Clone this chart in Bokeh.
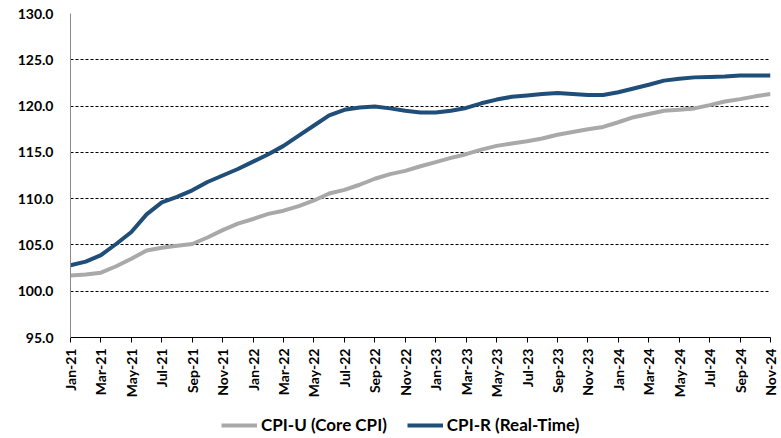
import math
from bokeh.plotting import figure
from bokeh.layouts import column
from bokeh.models import FixedTicker, NumeralTickFormatter, Range1d, Legend, LegendItem
from bokeh.embed import file_html
from bokeh.resources import INLINE

months = ["Jan-21","Feb-21","Mar-21","Apr-21","May-21","Jun-21","Jul-21","Aug-21","Sep-21","Oct-21","Nov-21","Dec-21",
          "Jan-22","Feb-22","Mar-22","Apr-22","May-22","Jun-22","Jul-22","Aug-22","Sep-22","Oct-22","Nov-22","Dec-22",
          "Jan-23","Feb-23","Mar-23","Apr-23","May-23","Jun-23","Jul-23","Aug-23","Sep-23","Oct-23","Nov-23","Dec-23",
          "Jan-24","Feb-24","Mar-24","Apr-24","May-24","Jun-24","Jul-24","Aug-24","Sep-24","Oct-24","Nov-24"]

cpi_u = [101.7, 101.8, 102.0, 102.7, 103.5, 104.4, 104.7, 104.9, 105.1, 105.8, 106.6, 107.3,
         107.8, 108.35, 108.7, 109.2, 109.8, 110.55, 110.95, 111.5, 112.15, 112.65, 113.0, 113.5,
         113.95, 114.4, 114.8, 115.3, 115.7, 115.95, 116.2, 116.5, 116.9, 117.2, 117.5, 117.75,
         118.25, 118.8, 119.15, 119.5, 119.6, 119.75, 120.1, 120.5, 120.75, 121.05, 121.3]

cpi_r = [102.8, 103.2, 103.9, 105.1, 106.4, 108.3, 109.6, 110.2, 110.9, 111.8, 112.5, 113.2,
         114.0, 114.8, 115.7, 116.8, 117.9, 119.0, 119.6, 119.85, 119.95, 119.75, 119.5, 119.3,
         119.3, 119.5, 119.8, 120.3, 120.7, 121.0, 121.15, 121.3, 121.4, 121.3, 121.2, 121.2,
         121.5, 121.9, 122.3, 122.75, 122.95, 123.1, 123.15, 123.2, 123.3, 123.3, 123.3]

series_names = ["CPI-U (Core CPI)", "CPI-R (Real-Time)"]
series_colors = ["#A9A9A9", "#1F4E79"]
series_values = [cpi_u, cpi_r]

y_ticks = [95, 100, 105, 110, 115, 120, 125, 130]
x = list(range(len(months)))
x_ticks = x[::2]

FONT = "Lato"

p = figure(output_backend="svg", toolbar_location=None,
           width=781, height=400,
           min_border_left=70, min_border_right=11, min_border_top=13, min_border_bottom=63,
           x_range=Range1d(0, len(months) - 1), y_range=Range1d(95, 130))
p.outline_line_color = None
p.background_fill_color = "white"

for vals, col in zip(series_values, series_colors):
    p.line(x, vals, line_color=col, line_width=4, line_join="round")

p.xgrid.visible = False
p.ygrid.grid_line_color = "#000000"
p.ygrid.grid_line_dash = "3 2"
p.ygrid.grid_line_width = 1

p.yaxis.ticker = FixedTicker(ticks=y_ticks)
p.yaxis.formatter = NumeralTickFormatter(format="0.0")
p.yaxis.axis_line_color = "#8A8A8A"
p.yaxis.major_tick_line_color = None
p.yaxis.major_tick_out = 0
p.yaxis.major_tick_in = 0
p.yaxis.minor_tick_line_color = None
p.yaxis.major_label_standoff = 17
p.yaxis.major_label_text_font = FONT
p.yaxis.major_label_text_font_style = "bold"
p.yaxis.major_label_text_font_size = "14px"
p.yaxis.major_label_text_color = "#000000"

p.xaxis.ticker = FixedTicker(ticks=x_ticks)
p.xaxis.major_label_overrides = {i: months[i] for i in x_ticks}
p.xaxis.major_label_orientation = math.pi / 2
p.xaxis.axis_line_color = "#000000"
p.xaxis.major_tick_line_color = "#000000"
p.xaxis.major_tick_out = 5
p.xaxis.major_tick_in = 0
p.xaxis.minor_tick_line_color = None
p.xaxis.major_label_standoff = 6
p.xaxis.major_label_text_font = FONT
p.xaxis.major_label_text_font_style = "bold"
p.xaxis.major_label_text_font_size = "14px"
p.xaxis.major_label_text_color = "#000000"

# legend strip below the chart (series drawn off-range so only the legend shows)
lg = figure(output_backend="svg", toolbar_location=None, width=781, height=38,
            min_border=0, x_range=Range1d(0, 1), y_range=Range1d(0, 1))
lg.outline_line_color = None
lg.axis.visible = False
lg.grid.visible = False
items = []
for name, vals, col in zip(series_names, series_values, series_colors):
    r = lg.line(x, vals, line_color=col, line_width=4)
    items.append(LegendItem(label=name, renderers=[r]))
legend = Legend(items=items, orientation="horizontal", location=(151, 3),
                border_line_color=None, background_fill_alpha=0,
                padding=0, margin=0, spacing=20,
                glyph_width=36, glyph_height=18, label_standoff=4,
                label_text_font=FONT, label_text_font_style="bold",
                label_text_font_size="17px", label_text_color="#000000")
lg.add_layout(legend, "center")

layout = column(p, lg, spacing=0)
open("out.html", "w").write(file_html(layout, INLINE))
